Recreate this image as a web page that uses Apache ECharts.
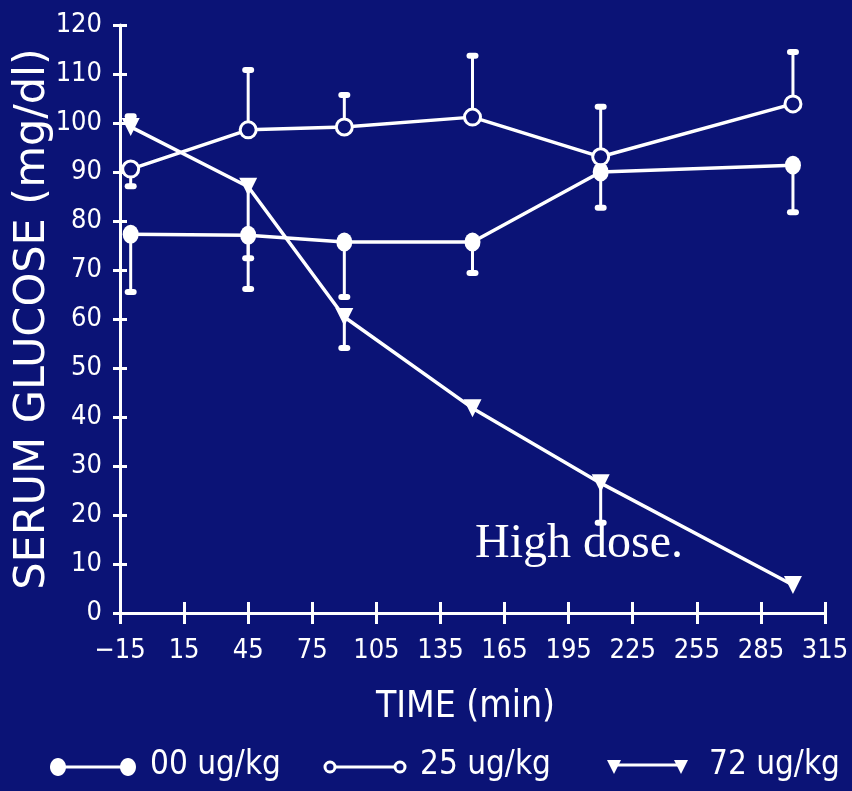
<!DOCTYPE html>
<html>
<head>
<meta charset="UTF-8">
<title>Serum glucose</title>
<script src="https://cdn.jsdelivr.net/npm/echarts@6/dist/echarts.min.js"></script>
<style>
  html, body { margin: 0; padding: 0; background: #0b1376; }
  #chart { width: 852px; height: 791px; }
</style>
</head>
<body>
<div id="chart"></div>
<script>
// time points (min)
var times = [-10, 45, 90, 150, 210, 300];
// mean serum glucose (mg/dl) per dose
var dose00 = [77.3, 77.1, 75.7, 75.7, 90.0, 91.4];
var dose25 = [90.6, 98.6, 99.2, 101.2, 93.1, 103.9];
var dose72 = [99.2, 87.0, 60.4, 41.8, 26.5, 5.7];
// end of the error bar drawn for each point (null = none visible)
var bar00 = [65.5, 66.1, 64.5, 69.4, 82.7, 81.8];
var bar25 = [87.1, 110.8, 105.7, 113.7, 103.3, 114.5];
var bar72 = [101.4, 72.4, 54.1, null, 18.4, null];
var seriesNames = ['00 ug/kg', '25 ug/kg', '72 ug/kg'];

var bg = '#0b1376';
var fg = '#ffffff';
var tickFont = '"DejaVu Sans Condensed", "DejaVu Sans", sans-serif';

function pairs(vals) {
  return times.map(function (t, i) { return [t, vals[i]]; });
}
function bars(vals, ends) {
  var out = [];
  for (var i = 0; i < times.length; i++) {
    if (ends[i] != null) out.push([times[i], vals[i], ends[i]]);
  }
  return out;
}

// vertical error bar with a small rounded cap at the far end
function renderBar(params, api) {
  var p0 = api.coord([api.value(0), api.value(1)]);
  var p1 = api.coord([api.value(0), api.value(2)]);
  return {
    type: 'group',
    children: [
      { type: 'line', shape: { x1: p0[0], y1: p0[1], x2: p1[0], y2: p1[1] },
        style: { stroke: fg, lineWidth: 3 } },
      { type: 'line', shape: { x1: p1[0] - 3, y1: p1[1], x2: p1[0] + 3, y2: p1[1] },
        style: { stroke: fg, lineWidth: 6, lineCap: 'round' } }
    ]
  };
}

function barSeries(vals, ends) {
  return {
    type: 'custom',
    renderItem: renderBar,
    encode: { x: 0, y: [1, 2] },
    data: bars(vals, ends),
    z: 1,
    silent: true
  };
}

var chart = echarts.init(document.getElementById('chart'));

var option = {
  backgroundColor: bg,
  animation: false,
  grid: { left: 120, right: 27, top: 25, bottom: 178, containLabel: false, outerBoundsMode: 'none' },
  xAxis: [{
    type: 'value',
    position: 'bottom',
    min: -15, max: 315, interval: 30,
    name: 'TIME (min)',
    nameLocation: 'middle',
    nameGap: 76,
    nameMoveOverlap: false,
    nameTextStyle: { color: fg, fontFamily: tickFont, fontSize: 37, padding: [0, 14, 0, 0] },
    axisLine: { onZero: false, lineStyle: { color: fg, width: 3 } },
    axisTick: { length: 11, lineStyle: { color: fg, width: 3 } },
    axisLabel: {
      color: fg, fontFamily: tickFont, fontSize: 27, margin: 24,
      formatter: function (v) { return v < 0 ? '\u2212' + Math.abs(v) : String(v); }
    },
    splitLine: { show: false }
  }, {
    type: 'value',
    position: 'bottom',
    min: -15, max: 315, interval: 30,
    axisLine: { show: false, onZero: false },
    axisTick: { inside: true, length: 11, lineStyle: { color: fg, width: 3 } },
    axisLabel: { show: false },
    splitLine: { show: false }
  }],
  yAxis: [{
    type: 'value',
    position: 'left',
    min: 0, max: 120, interval: 10,
    name: 'SERUM GLUCOSE (mg/dl)',
    nameLocation: 'middle',
    nameGap: 66,
    nameMoveOverlap: false,
    nameTextStyle: { color: fg, fontFamily: '"DejaVu Sans", sans-serif', fontSize: 43 },
    axisLine: { onZero: false, lineStyle: { color: fg, width: 3 } },
    axisTick: { length: 7, lineStyle: { color: fg, width: 3 } },
    axisLabel: { color: fg, fontFamily: tickFont, fontSize: 27, margin: 18 },
    splitLine: { show: false }
  }, {
    type: 'value',
    position: 'left',
    min: 0, max: 120, interval: 10,
    axisLine: { show: false, onZero: false },
    axisTick: { inside: true, length: 7, lineStyle: { color: fg, width: 3 } },
    axisLabel: { show: false },
    splitLine: { show: false }
  }],
  series: [
    barSeries(dose00, bar00),
    barSeries(dose25, bar25),
    barSeries(dose72, bar72),
    {
      name: seriesNames[0], type: 'line', data: pairs(dose00), z: 3,
      symbol: 'circle', symbolSize: [16, 19],
      lineStyle: { color: fg, width: 3.5 },
      itemStyle: { color: fg }
    },
    {
      name: seriesNames[1], type: 'line', data: pairs(dose25), z: 3,
      symbol: 'circle', symbolSize: 16,
      lineStyle: { color: fg, width: 3.5 },
      itemStyle: { color: bg, borderColor: fg, borderWidth: 3 }
    },
    {
      name: seriesNames[2], type: 'line', data: pairs(dose72), z: 3,
      symbol: 'triangle', symbolRotate: 180, symbolSize: 18,
      lineStyle: { color: fg, width: 3.5 },
      itemStyle: { color: fg }
    }
  ],
  graphic: [
    // key along the bottom
    { type: 'line', shape: { x1: 58, y1: 767, x2: 128, y2: 767 }, style: { stroke: fg, lineWidth: 3 } },
    { type: 'ellipse', shape: { cx: 58, cy: 767, rx: 8, ry: 9 }, style: { fill: fg } },
    { type: 'ellipse', shape: { cx: 128, cy: 767, rx: 8, ry: 9 }, style: { fill: fg } },
    { type: 'text', left: 150, top: 749, style: { text: seriesNames[0], fill: fg, font: '33px "DejaVu Sans Condensed", sans-serif' } },

    { type: 'line', shape: { x1: 330, y1: 767, x2: 400, y2: 767 }, style: { stroke: fg, lineWidth: 3 } },
    { type: 'circle', shape: { cx: 330, cy: 767, r: 5 }, style: { fill: bg, stroke: fg, lineWidth: 3 } },
    { type: 'circle', shape: { cx: 400, cy: 767, r: 5 }, style: { fill: bg, stroke: fg, lineWidth: 3 } },
    { type: 'text', left: 420, top: 749, style: { text: seriesNames[1], fill: fg, font: '33px "DejaVu Sans Condensed", sans-serif' } },

    { type: 'line', shape: { x1: 614, y1: 765, x2: 681, y2: 765 }, style: { stroke: fg, lineWidth: 3 } },
    { type: 'polygon', shape: { points: [[607, 760], [621, 760], [614, 774]] }, style: { fill: fg } },
    { type: 'polygon', shape: { points: [[674, 760], [688, 760], [681, 774]] }, style: { fill: fg } },
    { type: 'text', left: 709, top: 749, style: { text: seriesNames[2], fill: fg, font: '33px "DejaVu Sans Condensed", sans-serif' } },

    // overlay caption
    { type: 'text', left: 475, top: 520, style: { text: 'High dose.', fill: fg, font: '48px "Liberation Serif", serif' } }
  ]
};

chart.setOption(option);
</script>
</body>
</html>
